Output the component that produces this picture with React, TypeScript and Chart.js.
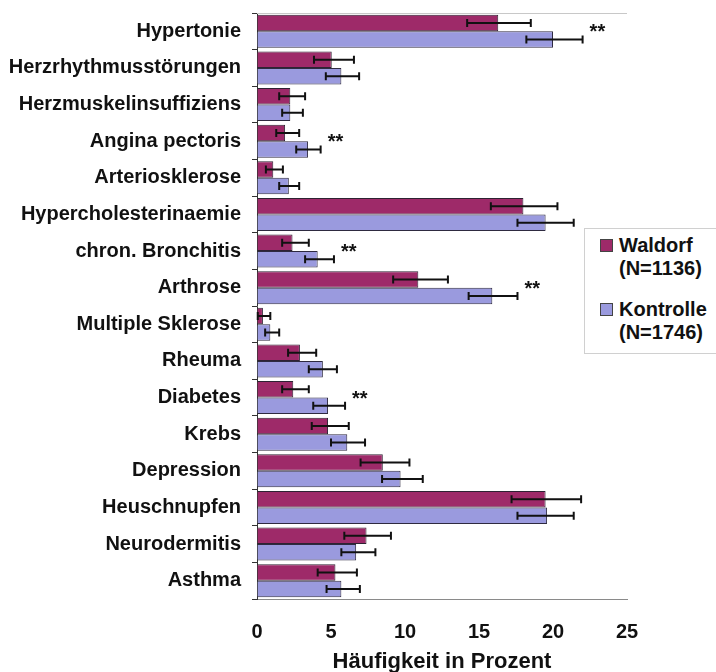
import React, { useEffect, useRef } from "react";
import { Chart, registerables } from "chart.js";

Chart.register(...registerables);

const categories = [
  "Hypertonie",
  "Herzrhythmusstörungen",
  "Herzmuskelinsuffiziens",
  "Angina pectoris",
  "Arteriosklerose",
  "Hypercholesterinaemie",
  "chron. Bronchitis",
  "Arthrose",
  "Multiple Sklerose",
  "Rheuma",
  "Diabetes",
  "Krebs",
  "Depression",
  "Heuschnupfen",
  "Neurodermitis",
  "Asthma",
];

const waldorf = [16.3, 5.05, 2.25, 1.9, 1.1, 18.0, 2.4, 10.9, 0.4, 2.9, 2.45, 4.8, 8.5, 19.5, 7.4, 5.3];
const waldorfLow = [14.2, 3.85, 1.5, 1.3, 0.6, 15.8, 1.7, 9.2, 0.05, 2.1, 1.7, 3.7, 7.0, 17.2, 5.9, 4.1];
const waldorfHigh = [18.5, 6.55, 3.25, 2.85, 1.75, 20.3, 3.5, 12.9, 0.9, 4.0, 3.5, 6.2, 10.3, 21.9, 9.05, 6.75];

const kontrolle = [20.0, 5.7, 2.25, 3.45, 2.15, 19.5, 4.1, 15.9, 0.9, 4.45, 4.8, 6.1, 9.7, 19.6, 6.7, 5.7];
const kontrolleLow = [18.2, 4.65, 1.7, 2.65, 1.5, 17.6, 3.25, 14.3, 0.55, 3.5, 3.8, 5.0, 8.45, 17.6, 5.7, 4.7];
const kontrolleHigh = [22.0, 6.9, 3.1, 4.3, 2.85, 21.4, 5.2, 17.6, 1.5, 5.4, 5.95, 7.3, 11.2, 21.4, 8.0, 6.95];

const significant = [true, false, false, true, false, false, true, true, false, false, true, false, false, false, false, false];

const xTicks = [0, 5, 10, 15, 20, 25];

const seriesNames = ["Waldorf", "Kontrolle"];
const seriesN = ["(N=1136)", "(N=1746)"];
const colors = ["#9e2a69", "#9a9ade"];

const FONT = "'Liberation Sans', Arial, sans-serif";

const errorBarPlugin = {
  id: "errorBars",
  afterDatasetsDraw(chart: any) {
    const ctx = chart.ctx;
    const xs = chart.scales.x;
    const lows = [waldorfLow, kontrolleLow];
    const highs = [waldorfHigh, kontrolleHigh];
    ctx.save();
    ctx.strokeStyle = "#111";
    ctx.lineWidth = 2;
    [0, 1].forEach((di) => {
      const meta = chart.getDatasetMeta(di);
      meta.data.forEach((bar: any, i: number) => {
        const y = bar.y;
        const x1 = xs.getPixelForValue(lows[di][i]);
        const x2 = xs.getPixelForValue(highs[di][i]);
        ctx.beginPath();
        ctx.moveTo(x1, y);
        ctx.lineTo(x2, y);
        ctx.moveTo(x1, y - 4);
        ctx.lineTo(x1, y + 4);
        ctx.moveTo(x2, y - 4);
        ctx.lineTo(x2, y + 4);
        ctx.stroke();
      });
    });
    // significance stars
    ctx.fillStyle = "#111";
    ctx.font = `bold 20px ${FONT}`;
    ctx.textAlign = "center";
    ctx.textBaseline = "alphabetic";
    const ys = chart.scales.y;
    significant.forEach((s, i) => {
      if (!s) return;
      const x = xs.getPixelForValue(kontrolleHigh[i] + 1.0);
      const y = ys.getPixelForValue(i);
      ctx.fillText("**", x, y + 7);
    });
    ctx.restore();
  },
};

export default function App() {
  const canvasRef = useRef<HTMLCanvasElement | null>(null);

  useEffect(() => {
    const canvas = canvasRef.current;
    if (!canvas) return;
    const chart = new Chart(canvas, {
      type: "bar",
      data: {
        labels: categories,
        datasets: [
          {
            label: seriesNames[0],
            data: waldorf,
            backgroundColor: colors[0],
            borderColor: "#2e2233",
            borderWidth: 1,
            barPercentage: 1.0,
            categoryPercentage: 0.9,
          },
          {
            label: seriesNames[1],
            data: kontrolle,
            backgroundColor: colors[1],
            borderColor: "#2e2a40",
            borderWidth: 1,
            barPercentage: 1.0,
            categoryPercentage: 0.9,
          },
        ],
      },
      options: {
        indexAxis: "y",
        animation: false,
        responsive: false,
        layout: { padding: { top: 13, right: 89, left: 0, bottom: 0 } },
        plugins: {
          legend: { display: false },
          tooltip: { enabled: false },
        },
        scales: {
          x: {
            min: 0,
            max: 25,
            afterFit: (scale: any) => {
              scale.height = 73;
              scale.paddingLeft = 0;
              scale.paddingRight = 0;
            },
            afterBuildTicks: (scale: any) => {
              scale.ticks = xTicks.map((v) => ({ value: v }));
            },
            grid: { display: true, drawOnChartArea: false, drawTicks: false },
            border: { display: true, color: "#8a8a8a", width: 1 },
            ticks: {
              padding: 21,
              color: "#111",
              font: { family: FONT, size: 20, weight: "bold" },
            },
            title: {
              display: true,
              text: "Häufigkeit in Prozent",
              color: "#111",
              font: { family: FONT, size: 22, weight: "bold", lineHeight: 1 },
              padding: { top: 0, bottom: -1 },
            },
          },
          y: {
            afterFit: (scale: any) => {
              scale.width = 257;
              scale.paddingTop = 0;
              scale.paddingBottom = 0;
            },
            grid: {
              display: true,
              drawOnChartArea: false,
              drawTicks: true,
              tickLength: 5,
              offset: true,
              color: "#333",
            },
            border: { display: true, color: "#333", width: 1 },
            ticks: {
              padding: 11,
              color: "#111",
              autoSkip: false,
              font: { family: FONT, size: 20, weight: "bold" },
            },
          },
        },
      },
      plugins: [errorBarPlugin],
    });
    return () => chart.destroy();
  }, []);

  return (
    <div style={{ position: "fixed", left: 0, top: 0, width: 716, height: 672, background: "#fff" }}>
      <canvas ref={canvasRef} width={716} height={672} style={{ width: 716, height: 672, display: "block" }} />
      <div
        style={{
          position: "absolute",
          left: 257,
          top: 13,
          width: 370,
          height: 0,
          borderTop: "1px solid #c8c8c8",
        }}
      />
      <div
        style={{
          position: "absolute",
          left: 584,
          top: 228,
          width: 140,
          height: 124,
          border: "1px solid #d0d0d0",
          background: "#fff",
        }}
      />
      {seriesNames.map((name, i) => (
        <div
          key={name}
          style={{
            position: "absolute",
            left: 600,
            top: 234 + i * 64,
            fontFamily: FONT,
            fontWeight: "bold",
            fontSize: 20,
            lineHeight: "23px",
            color: "#111",
          }}
        >
          <div style={{ display: "flex", alignItems: "center" }}>
            <span
              style={{
                display: "inline-block",
                width: 11,
                height: 11,
                background: colors[i],
                border: "1px solid #444",
                marginRight: 6,
              }}
            />
            <span>{name}</span>
          </div>
          <div style={{ paddingLeft: 19 }}>{seriesN[i]}</div>
        </div>
      ))}
    </div>
  );
}
